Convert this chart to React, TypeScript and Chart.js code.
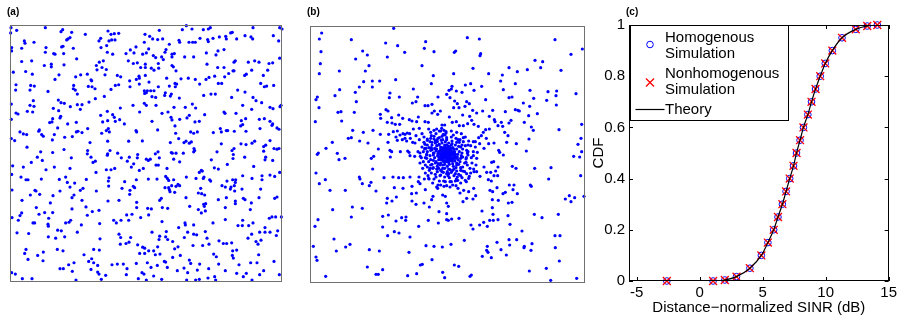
import React, { useEffect, useRef } from "react";
import { Chart, registerables } from "chart.js";

Chart.register(...registerables);

const FONT = '"Liberation Sans", Arial, Helvetica, sans-serif';

// ---------- Panel (a): homogeneous point pattern (x 0..816, y 0..774, y downward) ----------
const panelAWest: [number, number][] = [
  [3,8],[20,16],[106,8],[158,14],[153,20],[185,22],[226,28],[294,18],[303,28],[313,26],[326,25],[405,28],[2,24],
  [43,48],[45,55],[72,52],[174,42],[170,45],[180,38],[272,40],[267,48],[297,48],[305,45],[315,45],[403,52],
  [35,70],[5,68],[5,78],[108,68],[106,82],[159,64],[155,66],[135,88],[131,86],[161,86],[190,70],[273,68],[290,62],[308,88],[292,82],[378,66],[361,75],[348,86],[372,84],[398,88],
  [200,102],[35,110],[65,108],[103,122],[124,118],[124,126],[162,120],[268,112],[280,108],[259,122],[355,108],[382,114],[370,116],[392,128],[406,128],[406,118],[261,135],[289,134],[276,128],
  [10,142],[47,140],[67,148],[147,150],[135,164],[197,156],[212,150],[232,148],[243,165],[245,168],[285,150],[322,152],[332,156],[387,154],[388,160],[406,152],[379,164],[359,168],
  [18,180],[17,196],[62,182],[73,184],[60,196],[191,182],[190,192],[235,185],[246,186],[255,192],[196,196],[202,208],[316,182],[326,180],[303,194],[360,186],[388,178],[403,198],[404,206],[114,200],
  [145,226],[70,228],[4,238],[60,242],[72,245],[130,251],[153,234],[163,236],[181,246],[202,240],[216,240],[211,254],[237,232],[256,222],[283,215],[331,250],[369,242],[403,236],[18,265],[24,268],[52,260],[68,262],[146,258],[152,275],[389,262],
  [4,284],[128,282],[126,292],[119,294],[150,280],[173,298],[199,293],[272,272],[292,260],[293,288],[278,292],[308,270],[313,278],[316,290],[329,285],[343,298],
  [30,322],[40,328],[50,330],[88,316],[86,320],[95,330],[100,335],[143,310],[164,338],[187,336],[133,330],[127,346],[199,322],[204,320],[216,324],[233,312],[275,326],[289,318],[295,312],[298,322],[378,318],[380,322],[397,349],[356,350],
  [4,342],[14,348],[240,354],[293,350],[51,368],[92,382],[128,384],[162,375],[184,400],[233,378],[232,388],[243,398],[256,410],[249,414],[293,388],[300,378],[292,392],[323,386],[334,400],[358,398],[383,390],[382,400],[352,410],[82,398],[64,414],[97,408],[8,424],
  [40,428],[108,436],[133,428],[180,432],[258,444],[289,436],[303,436],[314,432],[371,418],[364,428],[388,438],[400,432],[5,450],[33,458],[48,466],[54,466],[94,464],[148,465],[167,458],[229,465],[297,460],[295,470],[344,472],[379,466],
  [172,474],[180,488],[194,476],[219,492],[211,498],[75,498],[78,500],[6,497],[150,500],[259,500],[296,485],[336,492],[360,498],[370,486],[374,490],[36,528],[61,512],[89,510],[129,514],[186,520],[192,512],[216,528],[294,530],[327,528],[359,510],[380,534],
  [121,536],[186,554],[228,548],[267,558],[247,562],[30,574],[35,566],[79,550],[87,570],[104,565],[116,582],[128,565],[6,580],[25,588],[69,596],[74,596],[114,600],[115,606],[167,596],[177,594],[182,588],[232,573],[269,598],[311,588],[319,596],[333,588],[350,572],[366,570],[380,550],[356,588],[392,580],
  [21,626],[56,628],[143,618],[154,620],[202,624],[214,602],[327,630],[332,640],[362,640],[115,638],[137,642],[164,638],[270,644],[331,660],[348,658],[357,654],[383,662],[398,669],[404,672],
  [48,676],[44,688],[100,684],[83,694],[54,706],[142,676],[159,680],[251,676],[268,678],[245,704],[251,716],[222,692],[236,712],[192,716],[176,722],[306,722],[322,720],[340,720],[379,718],[389,688],[404,688],
  [5,746],[16,750],[37,764],[66,764],[99,710],[150,734],[160,734],[187,742],[198,768],[243,736],[263,724],[263,744],[267,750],[274,766],[287,754],[351,734],[349,752],[385,764],[396,746],[402,750]
];

const panelAEast: [number, number][] = [
  [448,16],[517,14],[529,2],[546,12],[580,14],[595,12],[601,8],[667,22],[662,24],[729,8],[809,8],[816,12],[419,34],[428,42],[443,44],[458,42],[507,46],[509,52],[537,52],[548,52],[556,52],[570,40],[593,44],[595,50],[609,40],[628,36],[647,34],[649,42],[680,42],[705,32],[723,36],[728,42],[790,32],[806,48],
  [478,58],[416,72],[409,84],[468,74],[465,82],[493,86],[486,88],[486,96],[455,96],[460,104],[430,92],[437,98],[445,116],[589,84],[624,78],[642,74],[618,90],[524,96],[551,96],[676,108],[672,112],[715,112],[734,108],[747,112],[777,116],[788,114],[809,100],
  [424,130],[432,136],[446,130],[486,122],[490,126],[498,138],[591,118],[623,128],[642,128],[669,138],[672,138],[709,148],[704,152],[725,136],[773,136],[760,152],[656,146],[644,156],[614,154],[597,158],[588,164],[556,164],[535,160],[470,160],[513,162],
  [417,172],[445,186],[478,184],[495,176],[500,178],[496,186],[569,178],[625,176],[635,176],[683,196],[705,202],[752,176],[763,186],[770,184],[791,182],[412,198],[422,198],[432,198],[466,204],[484,208],[481,214],[464,212],[426,216],[437,218],[409,204],[581,212],[603,208],[616,208],[665,218],[729,218],[738,228],[755,234],[508,220],[547,238],
  [409,242],[438,242],[492,248],[526,248],[557,250],[642,262],[645,266],[678,266],[698,242],[456,266],[474,262],[538,272],[584,270],[780,248],[789,252],[810,246],[813,242],[725,254],
  [426,290],[483,278],[486,286],[509,284],[531,280],[555,292],[568,290],[694,288],[698,300],[707,282],[692,304],[708,320],[748,284],[763,282],[780,290],[786,302],[788,298],[801,310],[807,314],[750,312],[443,316],[495,304],[497,326],[542,322],[551,326],[562,322],[610,324],[631,312],[634,322],[649,318],[653,318],[673,320],
  [506,342],[528,350],[522,354],[544,352],[538,356],[481,354],[634,358],[693,358],[666,378],[672,372],[726,356],[734,350],[708,360],[761,366],[767,362],[780,348],[761,380],[792,372],[801,374],[807,372],[444,382],[436,388],[487,386],[484,384],[498,386],[520,386],[552,372],[554,378],[551,382],[621,382],[670,390],[704,398],
  [409,404],[415,408],[421,404],[448,400],[438,422],[445,422],[471,432],[491,404],[509,412],[604,406],[613,430],[625,434],[652,420],[669,402],[731,426],[765,406],[767,398],[788,408],[809,444],[568,444],[577,440],[574,438],[415,464],[441,464],[467,456],[472,462],[476,468],[491,466],[529,458],[558,462],[582,458],[580,462],[599,466],[602,470],[651,470],[668,466],[677,466],[676,474],[698,454],[726,462],[756,454],[756,466],[780,452],[794,456],
  [465,490],[476,490],[478,496],[480,502],[485,484],[498,486],[504,480],[509,484],[636,484],[646,488],[663,488],[673,484],[661,494],[674,500],[696,494],[752,494],[572,492],[565,506],[575,508],[584,512],[454,522],[449,528],[494,504],[528,520],[625,526],[649,520],[676,530],[676,538],[700,522],[705,526],[724,536],[747,520],[794,522],[801,518],[539,546],[581,540],[583,546],[587,538],
  [413,552],[424,554],[457,550],[473,552],[565,556],[586,560],[574,566],[646,550],[721,556],[416,572],[456,592],[525,596],[526,602],[609,596],[646,586],[698,588],[729,596],[716,604],[697,604],[684,604],[778,582],[786,578],[797,578],[814,578],[765,610],[765,624],[780,624],[506,610],[551,602],[469,622],[533,624],[551,630],[560,632],[586,622],
  [426,624],[449,636],[447,646],[467,638],[473,646],[488,652],[523,640],[591,642],[597,660],[627,650],[640,658],[650,658],[665,656],[714,642],[725,630],[749,624],[738,652],[753,648],[799,634],[803,620],[416,680],[431,680],[443,668],[494,674],[504,668],[549,664],[578,664],[680,678],[668,680],[744,660],
  [436,692],[450,690],[488,700],[463,712],[467,714],[511,694],[538,708],[542,718],[569,720],[611,690],[619,698],[626,720],[667,694],[670,702],[687,722],[722,716],[741,716],[746,692],[792,712],[412,716],[423,730],[442,724],[431,756],[472,730],[502,740],[522,732],[533,746],[562,738],[596,734],[614,758],[646,740],[680,748],[700,758],[709,748],[749,752],[761,740],[808,752],[455,766],[530,768],[557,768],[568,766],[594,762],[617,768],[726,768],[409,768]
];

// ---------- Panel (b): clustered point pattern (x 0..825, y 3..774, y downward) ----------
const panelBWest: [number, number][] = [
  [35,24],[28,42],[124,44],[251,10],[227,54],[263,62],[347,50],[343,70],[372,80],[33,80],[158,78],[172,90],[137,102],[232,96],[284,82],[31,116],[28,146],[88,138],[177,122],[166,138],[336,122],[370,152],[257,164],[161,170],[187,168],[209,168],[148,186],[187,186],[89,194],[75,212],[136,202],[22,216],[18,224],[240,204],[238,218],[268,216],[310,192],[323,216],[307,234],[318,230],[384,216],[410,208],[364,176],
  [27,248],[84,262],[93,260],[133,262],[139,230],[228,254],[234,258],[211,268],[212,280],[245,278],[266,270],[278,280],[325,276],[345,242],[354,242],[366,238],[373,258],[366,264],[383,268],[391,258],[16,290],[95,288],[232,292],[246,294],[256,298],[269,298],[298,284],[306,288],[320,290],[345,290],[355,292],[396,300],[404,300],
  [128,316],[160,322],[189,316],[211,328],[236,328],[250,320],[262,318],[270,330],[279,326],[285,328],[292,324],[299,326],[310,312],[318,332],[328,310],[336,326],[342,336],[356,312],[362,322],[372,316],[380,312],[388,318],[395,310],[402,316],[408,324],
  [115,340],[124,338],[67,352],[149,348],[174,354],[258,336],[262,346],[277,344],[285,340],[290,348],[301,340],[308,352],[315,354],[328,344],[345,358],[352,346],[362,340],[376,348],[388,338],[398,344],[405,330],
  [48,370],[25,384],[22,388],[82,385],[87,404],[105,400],[184,400],[191,394],[205,372],[234,352],[240,376],[245,380],[271,380],[293,378],[300,392],[297,382],[314,394],[324,380],[241,396],[331,394],[340,380],[345,370],[350,388],[357,368],[362,376],[370,384],[378,372],[386,360],[392,378],[398,388],[404,370],[410,360],
  [18,444],[46,464],[28,476],[60,496],[106,496],[148,456],[150,462],[157,476],[183,472],[178,482],[198,498],[188,432],[222,458],[249,456],[266,458],[280,458],[300,456],[253,488],[279,490],[306,484],[319,504],[305,506],[327,456],[325,470],[330,476],[343,462],[357,462],[346,494],[369,514],[365,524],[383,490],[380,486],[392,480],[401,468],[410,446],[410,482],[398,510],[406,514],[410,534],
  [232,520],[246,528],[230,534],[259,516],[306,528],[318,538],[342,534],[358,546],[387,560],[410,566],[68,554],[127,546],[157,550],[24,584],[15,604],[124,576],[218,574],[235,570],[258,588],[275,578],[288,576],[287,586],[218,606],[326,604],[355,586],[385,594],[410,584],
  [233,632],[253,620],[267,624],[300,636],[72,642],[10,664],[107,666],[120,658],[79,678],[178,674],[208,678],[348,662],[372,664],[397,666],[297,682],[18,696],[21,706],[366,704],[337,718],[331,720],[172,726],[218,734],[198,748],[205,748],[47,754],[293,752],[320,746],[398,742],[404,758]
];

const panelBEast: [number, number][] = [
  [472,38],[508,42],[735,44],[817,72],[433,82],[437,78],[512,86],[510,92],[783,88],[675,106],[698,110],[489,130],[597,128],[622,140],[652,134],[692,128],[753,136],[431,146],[536,146],[577,150],[572,168],[616,176],[515,184],[466,180],[482,176],[426,184],[417,196],[424,192],[439,198],[456,202],[492,196],[580,194],[660,196],[714,200],[740,198],[798,206],
  [527,224],[597,218],[606,216],[671,220],[710,226],[738,212],[420,218],[434,228],[442,236],[470,230],[478,236],[431,248],[447,248],[465,244],[640,234],[659,244],[739,240],[488,256],[500,264],[518,258],[548,256],[586,260],[616,254],[624,256],[628,258],[656,272],[682,266],[418,276],[458,270],[479,274],[538,274],[553,284],[555,290],[603,286],[643,292],[664,306],[670,316],[815,298],[747,314],
  [574,292],[597,294],[578,304],[564,302],[427,292],[439,290],[448,302],[460,302],[473,296],[485,286],[492,298],[505,304],[527,314],[538,312],[520,322],[584,322],[594,332],[590,352],[619,356],[657,342],[813,340],[804,358],[649,378],[815,380],[791,394],[809,396],[566,376],[569,382],[580,390],[552,354],[536,356],[529,340],[514,332],[506,338],[496,350],[509,356],[522,370],[502,382],[490,392],[474,380],[469,398],
  [545,412],[551,410],[522,426],[564,426],[607,424],[618,430],[674,430],[723,428],[530,442],[542,442],[557,438],[563,452],[552,452],[535,464],[544,468],[510,454],[500,440],[491,432],[482,444],[476,460],[469,470],[458,438],[452,452],[439,462],[436,468],[443,466],[428,480],[420,470],[444,490],[461,496],[476,500],[491,490],[450,504],[459,530],[470,520],[489,522],[497,512],[540,496],[548,500],[561,488],[579,506],[586,502],[598,480],[612,480],[609,494],[622,506],[661,480],[664,484],[716,462],[812,452],[547,524],[565,526],[595,534],[606,532],[766,522],[778,512],[783,530],[794,518],[822,514],
  [516,558],[547,548],[549,568],[415,544],[425,582],[415,586],[447,580],[594,572],[539,586],[550,586],[564,584],[532,604],[521,592],[509,600],[483,600],[489,612],[600,598],[673,568],[696,578],[745,568],[636,618],[735,632],[750,632],[620,644],[597,644],[599,660],[561,652],[573,674],[532,664],[530,676],[534,682],[589,690],[517,694],[544,698],[643,664],[642,668],[666,656],[663,676],[736,668],[423,658],[463,646],[748,708],[433,720],[446,724],[484,750],[480,754],[658,738],[709,730],[722,766],[800,760]
];

const panelBCore: [number, number][] = [
  [380,372],[386,380],[392,366],[398,374],[404,360],[410,370],[416,364],[422,376],[428,368],[434,380],[440,372],[383,392],[389,400],[395,388],[401,396],[407,384],[413,392],[419,386],[425,398],[431,390],[437,400],[443,388],
  [378,410],[386,404],[392,414],[398,406],[404,418],[410,404],[416,412],[422,406],[428,416],[434,408],[440,414],[396,354],[406,350],[416,354],[426,356],[388,358],[436,360],[412,380],[400,380],[420,392],[408,396],[394,378],
  [426,384],[402,408],[418,400],[384,386],[432,396],[444,404],[390,420],[412,424],[430,424],[374,398],[448,380],[380,362],[446,364],[372,384],[404,430],[420,434],[386,430],[438,428],[396,394],[414,374],[424,360],[392,372],
  [432,372],[408,410],[398,420],[426,408],[378,378],[442,396],[410,360],[388,396],[436,388],[402,370],[418,418],[394,404],[430,402],[406,390],[414,402],[400,388],[422,382],[384,416],[440,420],[370,406],[450,410],[376,354],
  [448,352],[396,440],[424,442],[366,374],[454,392],[360,392],[458,372],[412,440],[382,440],[440,438],
  [405,378],[411,376],[417,380],[403,386],[409,388],[415,386],[421,390],[399,392],[405,394],[411,398],[417,394],[407,372],[413,368],[419,372],[397,384],[423,378],[401,380],[395,372],[427,390],[409,382],
  [415,392],[403,400],[421,400],[399,368],[425,370],[391,386],[429,380],[411,404],[395,398],[419,366],[405,366],[431,386],[393,392],[413,410],[427,402],[389,378],[417,406],[401,410],[435,392],[385,394]
];

const panelBHalo: [number, number][] = [
  [350,400],[356,410],[362,420],[368,430],[358,436],[346,420],[340,410],[352,380],[344,372],[366,360],[360,350],[372,342],[384,340],[396,334],[410,338],[424,336],[438,340],[450,344],[460,350],[466,362],[470,376],[474,390],
  [468,402],[464,414],[458,426],[452,436],[446,448],[432,452],[418,458],[404,456],[390,452],[376,448],[364,444],[354,452],[372,462],[388,468],[406,470],[424,470],[440,466],[456,458],[470,446],[480,430],[486,414],[484,398],
  [490,380],[482,362],[476,348],[466,336],[454,326],[440,322],[424,318],[408,320],[392,318],[378,326],[364,332],[352,342],[342,352],[336,366],[330,384],[334,398],[330,414],[338,430],[346,444],[356,460],[368,474],[384,480],
  [402,484],[420,486],[438,482],[452,474],[466,466],[478,454],[492,440],[498,420],[500,400],[496,366],[490,350],[400,442],[416,446],[380,432],
  [370,390],[374,370],[376,414],[382,350],[394,346],[410,344],[426,348],[440,352],[452,366],[456,384],[452,400],[446,418],[432,432],[416,432],[398,430],[382,424],[366,418],[362,404],[364,368],[380,346],[444,344],[458,396],
  [370,428],[452,428],[392,436],[428,436],[456,360],[366,352],[350,390],[348,370],[472,384],[468,412],[436,446],[392,450],[360,430],[378,456],[414,452],[442,456],[464,440],[474,360],[460,338],[430,330],[400,328],[372,334],
  [352,360],[346,398],[352,426],[472,420]
];

// ---------- Panel (c): CDF of distance-normalized SINR ----------
const simSinrDb = [-2.6, 1.07, 2.0, 2.93, 3.99, 4.9, 5.42, 5.88, 6.22, 6.57, 6.86, 7.15, 7.45, 7.69, 7.97, 8.24, 8.59, 8.88, 9.2, 9.57, 9.97, 10.53, 11.3, 12.39, 13.3, 14.1];
const homogenousCdf = [0, 0, 0.004, 0.017, 0.05, 0.1, 0.15, 0.2, 0.25, 0.3, 0.35, 0.4, 0.45, 0.5, 0.55, 0.6, 0.65, 0.7, 0.75, 0.8, 0.85, 0.9, 0.95, 0.983, 0.996, 1.0];
const nonhomogenousCdf = [0, 0, 0.004, 0.017, 0.05, 0.1, 0.15, 0.2, 0.25, 0.3, 0.35, 0.4, 0.45, 0.5, 0.55, 0.6, 0.65, 0.7, 0.75, 0.8, 0.85, 0.9, 0.95, 0.983, 0.996, 1.0];
const theorySinrDb = [-5.6, -2.6, 0, 1.07, 2.0, 2.93, 3.99, 4.9, 5.42, 5.88, 6.22, 6.57, 6.86, 7.15, 7.45, 7.69, 7.97, 8.24, 8.59, 8.88, 9.2, 9.57, 9.97, 10.53, 11.3, 12.39, 13.3, 14.1, 15];
const theoryCdf = [0, 0, 0, 0.001, 0.004, 0.017, 0.05, 0.1, 0.15, 0.2, 0.25, 0.3, 0.35, 0.4, 0.45, 0.5, 0.55, 0.6, 0.65, 0.7, 0.75, 0.8, 0.85, 0.9, 0.95, 0.983, 0.996, 1.0, 1.0];

const xTickValues = [-5, 0, 5, 10, 15];
const xTickLabels = ["-5", "0", "5", "10", "15"];
const yTickValues = [0, 0.2, 0.4, 0.6, 0.8, 1];
const yTickLabels = ["0", "0.2", "0.4", "0.6", "0.8", "1"];
const legendEntries = [
  ["Homogenous", "Simulation"],
  ["Nonhomogenous", "Simulation"],
  ["Theory"],
];
const xTitle = "Distance\u2212normalized SINR (dB)";
const yTitle = "CDF";

const boxPlugin = {
  id: "panelBox",
  afterDatasetsDraw(chart: any, _args: any, opts: any) {
    const a = chart.chartArea;
    const ctx = chart.ctx;
    ctx.save();
    ctx.strokeStyle = opts.color || "#000";
    ctx.lineWidth = 1;
    ctx.strokeRect(Math.round(a.left) + 0.5, Math.round(a.top) + 0.5, Math.round(a.right - a.left) - 1, Math.round(a.bottom - a.top) - 1);
    ctx.restore();
  },
};

const innerTicksPlugin = {
  id: "innerTicks",
  afterDatasetsDraw(chart: any) {
    const a = chart.chartArea;
    const ctx = chart.ctx;
    const xs = chart.scales.x;
    const ys = chart.scales.y;
    const len = 4;
    ctx.save();
    ctx.strokeStyle = "#000";
    ctx.lineWidth = 1;
    ctx.beginPath();
    xs.ticks.forEach((_t: any, i: number) => {
      const px = Math.round(xs.getPixelForTick(i)) + 0.5;
      ctx.moveTo(px, a.bottom);
      ctx.lineTo(px, a.bottom - len);
      ctx.moveTo(px, a.top);
      ctx.lineTo(px, a.top + len);
    });
    ys.ticks.forEach((_t: any, i: number) => {
      const py = Math.round(ys.getPixelForTick(i)) + 0.5;
      ctx.moveTo(a.left, py);
      ctx.lineTo(a.left + len, py);
      ctx.moveTo(a.right, py);
      ctx.lineTo(a.right - len, py);
    });
    ctx.stroke();
    ctx.restore();
  },
};

const legendPlugin = {
  id: "matlabLegend",
  afterDraw(chart: any) {
    const ctx = chart.ctx;
    const a = chart.chartArea;
    const x0 = Math.round(a.left) + 1.5;
    const y0 = Math.round(a.top) + 0.5;
    const w = 158;
    const h = 95;
    ctx.save();
    ctx.fillStyle = "#fff";
    ctx.fillRect(x0, y0, w, h);
    ctx.strokeStyle = "#000";
    ctx.lineWidth = 1;
    ctx.strokeRect(x0, y0, w, h);
    const ds = chart.data.datasets;
    // circle marker
    ctx.strokeStyle = ds[0].borderColor;
    ctx.beginPath();
    ctx.arc(x0 + 19.5, y0 + 19, 3.3, 0, Math.PI * 2);
    ctx.stroke();
    // cross marker
    ctx.strokeStyle = ds[1].borderColor;
    ctx.lineWidth = 1.3;
    ctx.beginPath();
    const cx = x0 + 19.5, cy = y0 + 57;
    ctx.moveTo(cx - 4, cy - 4); ctx.lineTo(cx + 4, cy + 4);
    ctx.moveTo(cx + 4, cy - 4); ctx.lineTo(cx - 4, cy + 4);
    ctx.stroke();
    // line
    ctx.lineWidth = 1.2;
    ctx.strokeStyle = ds[2].borderColor;
    ctx.beginPath();
    ctx.moveTo(x0 + 5, y0 + 84);
    ctx.lineTo(x0 + 34, y0 + 84);
    ctx.stroke();
    ctx.fillStyle = "#000";
    ctx.font = "15px " + FONT;
    ctx.textBaseline = "middle";
    ctx.textAlign = "left";
    const tx = x0 + 34.5;
    ctx.fillText(legendEntries[0][0], tx, y0 + 12);
    ctx.fillText(legendEntries[0][1], tx, y0 + 28.5);
    ctx.fillText(legendEntries[1][0], tx, y0 + 48);
    ctx.fillText(legendEntries[1][1], tx, y0 + 64.5);
    ctx.fillText(legendEntries[2][0], tx, y0 + 84.5);
    ctx.restore();
  },
};

function toXY(pts: [number, number][]) {
  return pts.map(([x, y]) => ({ x, y }));
}

function scatterConfig(points: [number, number][], xMax: number, yMin: number, yMax: number, pad: any): any {
  return {
    type: "scatter",
    data: {
      datasets: [
        {
          data: toXY(points),
          backgroundColor: "#0000ff",
          borderWidth: 0,
          pointRadius: 1.6,
          pointHoverRadius: 1.6,
          clip: false,
        },
      ],
    },
    options: {
      responsive: false,
      animation: false,
      events: [],
      layout: { padding: pad },
      plugins: { legend: { display: false }, tooltip: { enabled: false }, panelBox: { color: "#707070" } },
      scales: {
        x: { type: "linear", display: false, min: 0, max: xMax },
        y: { type: "linear", display: false, min: yMin, max: yMax, reverse: true },
      },
    },
    plugins: [boxPlugin],
  };
}

function cdfConfig(): any {
  const tickFont = { family: FONT, size: 15 };
  return {
    type: "scatter",
    data: {
      datasets: [
        {
          label: "Homogenous Simulation",
          data: simSinrDb.map((x, i) => ({ x, y: homogenousCdf[i] })),
          pointStyle: "circle",
          pointRadius: 3.3,
          borderColor: "#0000ff",
          backgroundColor: "rgba(0,0,0,0)",
          borderWidth: 1,
          showLine: false,
          clip: false,
          order: 3,
        },
        {
          label: "Nonhomogenous Simulation",
          data: simSinrDb.map((x, i) => ({ x, y: nonhomogenousCdf[i] })),
          pointStyle: "crossRot",
          pointRadius: 5.6,
          borderColor: "#ff0000",
          backgroundColor: "#ff0000",
          borderWidth: 1.3,
          showLine: false,
          clip: false,
          order: 2,
        },
        {
          label: "Theory",
          data: theorySinrDb.map((x, i) => ({ x, y: theoryCdf[i] })),
          borderColor: "#000000",
          backgroundColor: "#000000",
          borderWidth: 1.2,
          pointRadius: 0,
          showLine: true,
          cubicInterpolationMode: "monotone",
          order: 1,
        },
      ],
    },
    options: {
      responsive: false,
      animation: false,
      events: [],
      layout: { padding: { top: 25, right: 8, left: 0, bottom: 0 } },
      plugins: { legend: { display: false }, tooltip: { enabled: false }, panelBox: { color: "#000" } },
      scales: {
        x: {
          type: "linear",
          min: -5.6,
          max: 15,
          afterBuildTicks: (s: any) => { s.ticks = xTickValues.map((v) => ({ value: v })); },
          afterFit: (s: any) => { s.height = 36; },
          grid: { display: false, drawTicks: false },
          border: { display: false },
          ticks: {
            color: "#000",
            font: tickFont,
            padding: 3,
            maxRotation: 0,
            autoSkip: false,
            callback: (v: any) => xTickLabels[xTickValues.indexOf(Number(v))] ?? "",
          },
          title: { display: true, text: xTitle, color: "#000", font: tickFont, padding: { top: 0, bottom: 0 } },
        },
        y: {
          type: "linear",
          min: 0,
          max: 1,
          afterBuildTicks: (s: any) => { s.ticks = yTickValues.map((v) => ({ value: v })); },
          afterFit: (s: any) => { s.width = 39; },
          grid: { display: false, drawTicks: false },
          border: { display: false },
          ticks: {
            color: "#000",
            font: tickFont,
            padding: 4,
            autoSkip: false,
            callback: (v: any) => yTickLabels[yTickValues.findIndex((t) => Math.abs(t - Number(v)) < 1e-9)] ?? "",
          },
          title: { display: true, text: yTitle, color: "#000", font: tickFont, padding: { top: 0, bottom: 0 } },
        },
      },
    },
    plugins: [boxPlugin, innerTicksPlugin, legendPlugin],
  };
}

const labelStyle: React.CSSProperties = {
  position: "absolute",
  font: "bold 10px " + FONT,
  lineHeight: "10px",
  color: "#000",
};

export default function App() {
  const refA = useRef<HTMLCanvasElement>(null);
  const refB = useRef<HTMLCanvasElement>(null);
  const refC = useRef<HTMLCanvasElement>(null);

  useEffect(() => {
    const charts: Chart[] = [];
    if (refA.current) {
      charts.push(new Chart(refA.current, scatterConfig([...panelAWest, ...panelAEast], 816, 0, 774, { left: 10, top: 25, right: 13, bottom: 35 })));
    }
    if (refB.current) {
      charts.push(new Chart(refB.current, scatterConfig([...panelBWest, ...panelBEast, ...panelBHalo, ...panelBCore], 825, 3, 774, { left: 15, top: 26, right: 5, bottom: 34 })));
    }
    if (refC.current) {
      charts.push(new Chart(refC.current, cdfConfig()));
    }
    return () => charts.forEach((c) => c.destroy());
  }, []);

  return (
    <div style={{ position: "absolute", left: 0, top: 0, width: 900, height: 317, background: "#fff", overflow: "hidden" }}>
      <canvas ref={refA} width={295} height={317} style={{ position: "absolute", left: 0, top: 0 }} />
      <canvas ref={refB} width={295} height={317} style={{ position: "absolute", left: 295, top: 0 }} />
      <canvas ref={refC} width={310} height={317} style={{ position: "absolute", left: 590, top: 0 }} />
      <div style={{ ...labelStyle, left: 7, top: 7 }}>(a)</div>
      <div style={{ ...labelStyle, left: 307, top: 7 }}>(b)</div>
      <div style={{ ...labelStyle, left: 626, top: 7 }}>(c)</div>
    </div>
  );
}
